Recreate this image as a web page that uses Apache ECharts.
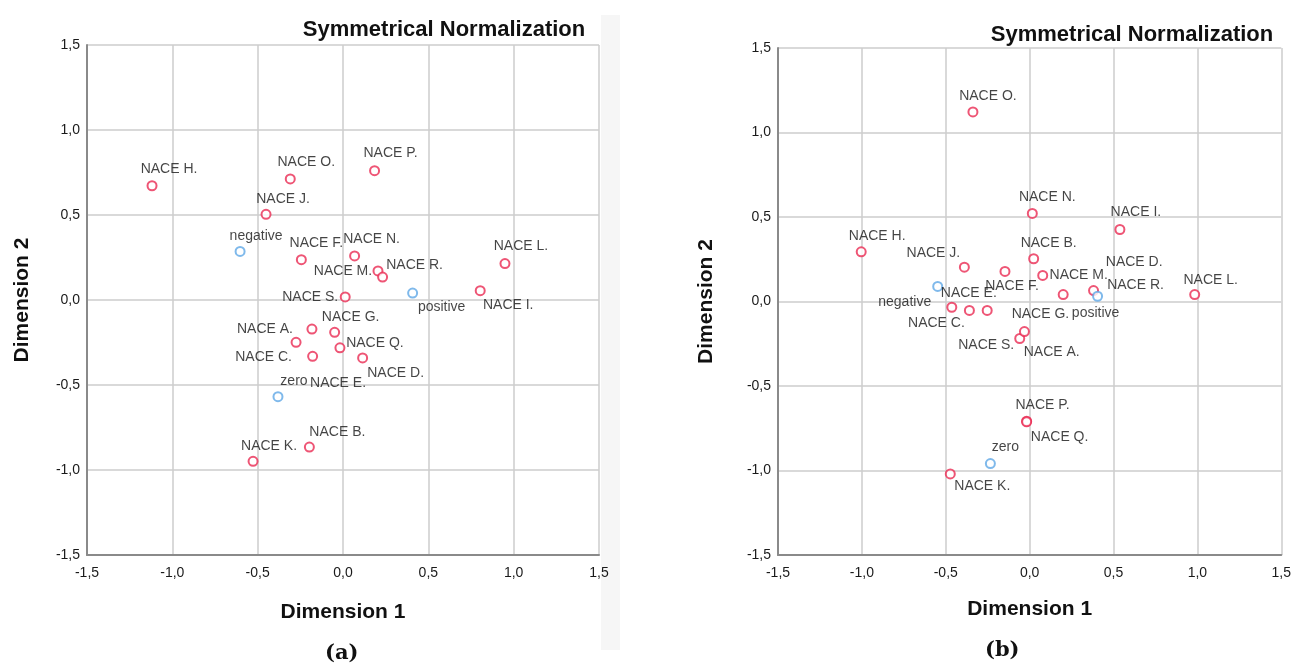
<!DOCTYPE html>
<html>
<head>
<meta charset="utf-8">
<script src="https://cdn.jsdelivr.net/npm/echarts@6/dist/echarts.min.js"></script>
<style>
html,body{margin:0;padding:0;background:#fff;}
#main{width:1294px;height:669px;}
</style>
</head>
<body>
<div id="main"></div>
<script>
// ---- Data ----
const naceNames = ['NACE A.','NACE B.','NACE C.','NACE D.','NACE E.','NACE F.','NACE G.','NACE H.','NACE I.','NACE J.','NACE K.','NACE L.','NACE M.','NACE N.','NACE O.','NACE P.','NACE Q.','NACE R.','NACE S.'];
const catNames = ['negative','zero','positive'];

// (a)
const leftNaceX = [-0.182,-0.197,-0.178,0.115,-0.275,-0.244,-0.049,-1.119,0.804,-0.451,-0.527,0.949,0.205,0.068,-0.309,0.185,-0.018,0.232,0.013];
const leftNaceY = [-0.171,-0.865,-0.331,-0.341,-0.249,0.237,-0.190,0.672,0.055,0.504,-0.949,0.214,0.171,0.259,0.712,0.761,-0.281,0.135,0.018];
const leftCatX = [-0.603,-0.381,0.408];
const leftCatY = [0.286,-0.569,0.041];

// (b)
const rightNaceX = [-0.059,0.024,-0.359,0.200,-0.464,-0.147,-0.031,-1.004,0.538,-0.389,-0.473,0.984,0.078,0.016,-0.338,-0.018,-0.018,0.381,-0.253];
const rightNaceY = [-0.219,0.253,-0.053,0.041,-0.034,0.178,-0.178,0.294,0.426,0.203,-1.020,0.041,0.154,0.521,1.122,-0.708,-0.712,0.065,-0.053];
const rightCatX = [-0.548,-0.234,0.405];
const rightCatY = [0.089,-0.959,0.031];

const axisTicks = [-1.5,-1.0,-0.5,0.0,0.5,1.0,1.5];

// ---- Layout (label placement offsets in px, not data) ----
const leftNaceLabelOff = [[-47,0],[28,-15],[-49,1],[33,15],[42,41],[15,-17],[16,-15],[17,-17],[28,14],[17,-15],[16,-15],[16,-17],[-35,0],[17,-17],[16,-17],[16,-17],[35,-5],[32,-12],[-35,0]];
const leftCatLabelOff = [[16,-15],[16,-16],[29,14]];
const rightNaceLabelOff = [[32,14],[15,-16],[-33,13],[71,-32],[17,-14],[7,15],[16,-17],[16,-16],[16,-17],[-31,-14],[32,12],[16,-14],[36,0],[15,-16],[15,-16],[16,-16],[33,15],[42,-5],[-1,35]];
const rightCatLabelOff = [[-33,16],[15,-16],[-2,17]];

const RED = '#ea2a52';
const BLUE = '#5fa7e6';
const FONT = '"Liberation Sans", Arial, sans-serif';

function items(names, xs, ys, offs) {
  return names.map((n, i) => ({
    name: n,
    value: [xs[i], ys[i]],
    label: { offset: offs[i] }
  }));
}

function series(idx, names, xs, ys, offs, color) {
  return {
    type: 'scatter',
    xAxisIndex: idx, yAxisIndex: idx,
    symbol: 'emptyCircle',
    symbolSize: 9,
    itemStyle: { color: color, borderColor: color, borderWidth: 2 },
    label: {
      show: true, position: 'inside', formatter: '{b}',
      color: '#151515', fontFamily: FONT, fontSize: 14,
      align: 'center', verticalAlign: 'middle',
      textBorderWidth: 0
    },
    emphasis: { disabled: true },
    data: items(names, xs, ys, offs),
    z: 3
  };
}

const fmt = v => v.toFixed(1).replace('.', ',');

function xAx(gi, gap) {
  return {
    type: 'value', gridIndex: gi, min: axisTicks[0], max: axisTicks[axisTicks.length-1], interval: 0.5,
    name: 'Dimension 1', nameLocation: 'middle', nameGap: gap,
    nameTextStyle: { fontFamily: FONT, fontSize: 21, fontWeight: 'bold', color: '#111' },
    axisLine: { show: true, onZero: false, lineStyle: { color: '#8a8a8a', width: 2 } },
    axisTick: { show: false },
    axisLabel: { formatter: fmt, fontFamily: FONT, fontSize: 14, color: '#1a1a1a', margin: 11 },
    splitLine: { show: true, lineStyle: { color: '#cdcdcd', width: 1.5 } }
  };
}
function yAx(gi, gap) {
  return {
    type: 'value', gridIndex: gi, min: axisTicks[0], max: axisTicks[axisTicks.length-1], interval: 0.5,
    name: 'Dimension 2', nameLocation: 'middle', nameGap: gap,
    nameTextStyle: { fontFamily: FONT, fontSize: 21, fontWeight: 'bold', color: '#111' },
    axisLine: { show: true, onZero: false, lineStyle: { color: '#8a8a8a', width: 2 } },
    axisTick: { show: false },
    axisLabel: { formatter: fmt, fontFamily: FONT, fontSize: 14, color: '#1a1a1a', margin: 7 },
    splitLine: { show: true, lineStyle: { color: '#cdcdcd', width: 1.5 } }
  };
}

const chart = echarts.init(document.getElementById('main'), null, { renderer: 'canvas' });
chart.setOption({
  animation: false,
  backgroundColor: '#fff',
  title: [
    { text: 'Symmetrical Normalization', left: 439, top: 14, textAlign: 'center',
      textStyle: { fontFamily: FONT, fontSize: 22, fontWeight: 'bold', color: '#111' } },
    { text: 'Symmetrical Normalization', left: 1127, top: 19, textAlign: 'center',
      textStyle: { fontFamily: FONT, fontSize: 22, fontWeight: 'bold', color: '#111' } }
  ],
  graphic: [
    { type: 'rect', shape: { x: 601, y: 15, width: 19, height: 635 }, style: { fill: '#f6f6f6' }, z: -1 },
    { type: 'text', left: 325, top: 643, style: { text: '(a)', font: 'bold 21px "DejaVu Serif", serif', fill: '#111' } },
    { type: 'text', left: 985, top: 640, style: { text: '(b)', font: 'bold 21px "DejaVu Serif", serif', fill: '#111' } }
  ],
  grid: [
    { left: 87, top: 45, width: 512, height: 510 },
    { left: 778, top: 48, width: 509, height: 507 }
  ],
  xAxis: [xAx(0, 47), xAx(1, 44)],
  yAxis: [yAx(0, 54), yAx(1, 61)],
  series: [
    series(0, naceNames, leftNaceX, leftNaceY, leftNaceLabelOff, RED),
    series(0, catNames, leftCatX, leftCatY, leftCatLabelOff, BLUE),
    series(1, naceNames, rightNaceX, rightNaceY, rightNaceLabelOff, RED),
    series(1, catNames, rightCatX, rightCatY, rightCatLabelOff, BLUE)
  ]
});
</script>
</body>
</html>
